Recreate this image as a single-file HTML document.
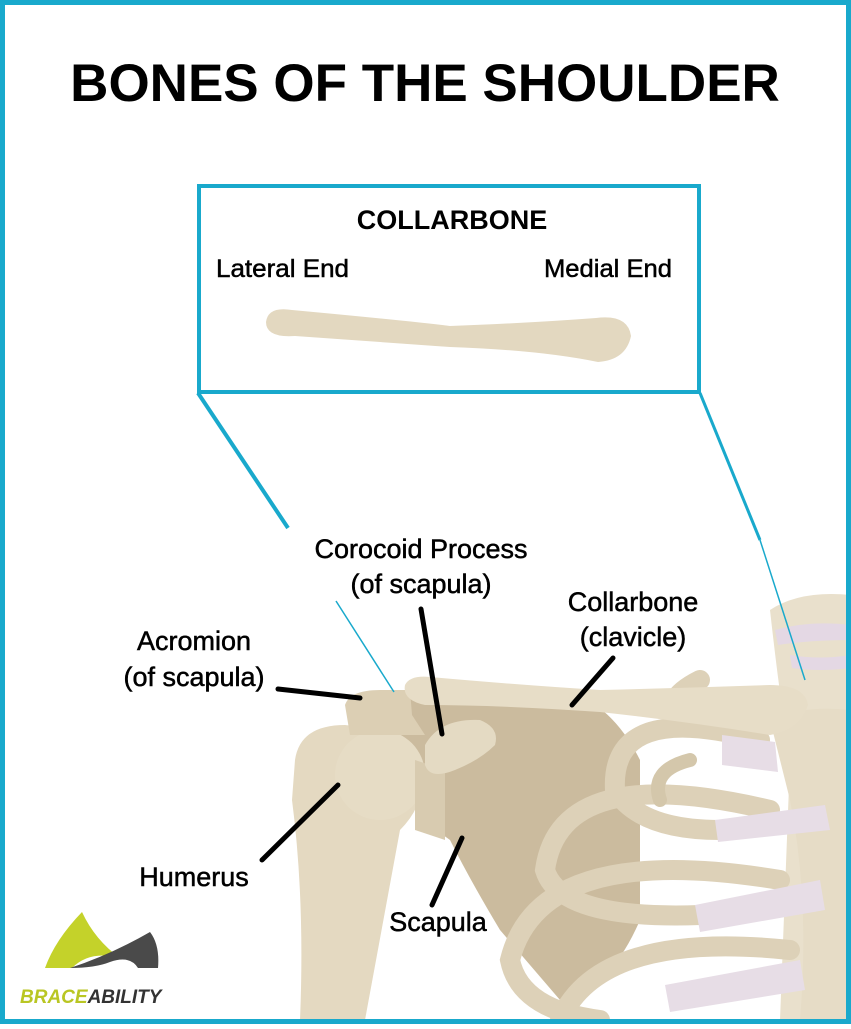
<!DOCTYPE html>
<html><head><meta charset="utf-8"><style>
html,body{margin:0;padding:0;background:#fff}
body{width:851px;height:1024px;overflow:hidden;position:relative;font-family:"Liberation Sans",sans-serif}
</style></head><body>
<svg width="851" height="1024" viewBox="0 0 851 1024" xmlns="http://www.w3.org/2000/svg">
<rect x="0" y="0" width="851" height="1024" fill="#fff"/>
<g stroke="none">
 <path d="M770 610 Q800 590 851 595 L851 1020 L780 1020 L790 760 Q780 700 770 610Z" fill="#e9e0cc"/>
 <path d="M775 630 Q810 620 851 625 L851 640 Q810 640 778 645Z" fill="#e4d8e4"/>
 <path d="M790 655 Q820 660 851 655 L851 668 Q820 672 792 668Z" fill="#e4d8e4"/>
 <path d="M770 720 Q800 705 851 710 L851 1020 L800 1020 Q810 900 790 800Z" fill="#e6dcc6"/>
 <path d="M350 700 L560 690 Q610 700 640 760 L640 920 Q610 990 560 1000 L500 930 Q470 880 450 840 Q420 820 415 790 Z" fill="#cbbb9e"/>
 <g fill="none" stroke="#ddd1b8" stroke-width="20" stroke-linecap="round">
  <path d="M760 740 Q610 700 615 790 Q640 830 720 830"/>
  <path d="M770 810 Q560 760 545 870 Q560 920 700 915"/>
  <path d="M780 880 Q540 840 510 960 Q520 1010 600 1020"/>
  <path d="M790 950 Q600 930 560 1020"/>
  <path d="M700 680 Q660 700 680 720"/>
 </g>
 <g fill="none" stroke="#d4c7ab" stroke-width="14" stroke-linecap="round">
  <path d="M690 760 Q650 770 660 800"/>
 </g>
 <g fill="#e7dde6">
  <path d="M722 735 L775 742 L778 772 L722 765Z"/>
  <path d="M715 820 L825 805 L830 830 L718 842Z"/>
  <path d="M695 905 L820 880 L825 910 L700 932Z"/>
  <path d="M665 985 L800 960 L805 990 L670 1012Z"/>
 </g>
 <path d="M295 760 Q300 725 345 725 Q400 730 420 760 Q430 800 400 830 L365 1020 L300 1020 Q305 900 292 800Z" fill="#e4d9c1"/>
 <circle cx="380" cy="775" r="45" fill="#e6dcc5"/>
 <path d="M415 760 L445 770 L445 840 L415 830Z" fill="#d8cbb0"/>
 <path d="M345 705 Q350 690 380 690 L410 690 L412 715 L425 735 L350 735Z" fill="#dccfb4"/>
 <path d="M425 745 Q440 718 480 720 Q500 728 495 745 Q480 760 455 770 Q430 780 425 765Z" fill="#e4dac3"/>
 <path d="M405 685 Q410 675 430 677 Q520 685 600 690 Q680 688 770 685 Q805 685 808 705 Q800 730 770 735 Q690 722 600 712 Q500 705 425 705 Q402 700 405 685Z" fill="#e7ddc7"/>
</g>
<line x1="198" y1="393" x2="288" y2="528" stroke="#19a9cc" stroke-width="4"/>
<line x1="336" y1="601" x2="394" y2="692" stroke="#19a9cc" stroke-width="1.5"/>
<line x1="700" y1="393" x2="760" y2="540" stroke="#19a9cc" stroke-width="3"/>
<line x1="760" y1="540" x2="805" y2="680" stroke="#19a9cc" stroke-width="1.5"/>
<rect x="199" y="186" width="500" height="206" fill="#fff" stroke="#19a9cc" stroke-width="4"/>
<path d="M266 322 Q268 306 292 310 Q400 320 450 326 Q530 323 596 318 Q628 314 631 336 Q626 360 598 362 Q540 350 450 347 Q380 342 295 336 Q266 338 266 322Z" fill="#e3d8c0"/>
<g stroke="#000" stroke-width="5" stroke-linecap="round">
 <line x1="278" y1="689" x2="360" y2="698"/>
 <line x1="421" y1="609" x2="442" y2="734"/>
 <line x1="613" y1="658" x2="572" y2="705"/>
 <line x1="338" y1="785" x2="262" y2="860"/>
 <line x1="462" y1="838" x2="432" y2="905"/>
</g>
<g font-family="Liberation Sans, sans-serif" fill="#000" stroke="#000" stroke-width="0.5">
 <text x="425" y="101" text-anchor="middle" font-size="53" font-weight="bold" stroke="none">BONES OF THE SHOULDER</text>
 <text x="452" y="229" text-anchor="middle" font-size="27" font-weight="bold" stroke="none">COLLARBONE</text>
 <text x="216" y="277" font-size="25" textLength="133" lengthAdjust="spacingAndGlyphs">Lateral End</text>
 <text x="544" y="277" font-size="25" textLength="128" lengthAdjust="spacingAndGlyphs">Medial End</text>
 <text x="421" y="558" text-anchor="middle" font-size="27">Corocoid Process</text>
 <text x="421" y="593" text-anchor="middle" font-size="27">(of scapula)</text>
 <text x="633" y="611" text-anchor="middle" font-size="27">Collarbone</text>
 <text x="633" y="646" text-anchor="middle" font-size="27">(clavicle)</text>
 <text x="194" y="650" text-anchor="middle" font-size="27">Acromion</text>
 <text x="194" y="686" text-anchor="middle" font-size="27">(of scapula)</text>
 <text x="194" y="886" text-anchor="middle" font-size="27">Humerus</text>
 <text x="438" y="931" text-anchor="middle" font-size="27">Scapula</text>
</g>
<path d="M82 912 Q55 940 45 968 L72 968 Q90 950 120 958 Q95 940 82 912Z" fill="#c4d22a"/>
<path d="M70 968 Q110 955 150 932 Q160 945 158 968 L138 968 Q130 955 110 962 Q95 968 70 968Z" fill="#4a4a4a"/>
<text x="20" y="1003" font-family="Liberation Sans, sans-serif" font-size="19" font-weight="bold" font-style="italic" fill="#b9c623">BRACE<tspan fill="#333">ABILITY</tspan></text>
<rect x="2.5" y="2.5" width="846" height="1019" fill="none" stroke="#19a9cc" stroke-width="5"/>
</svg>
</body></html>
